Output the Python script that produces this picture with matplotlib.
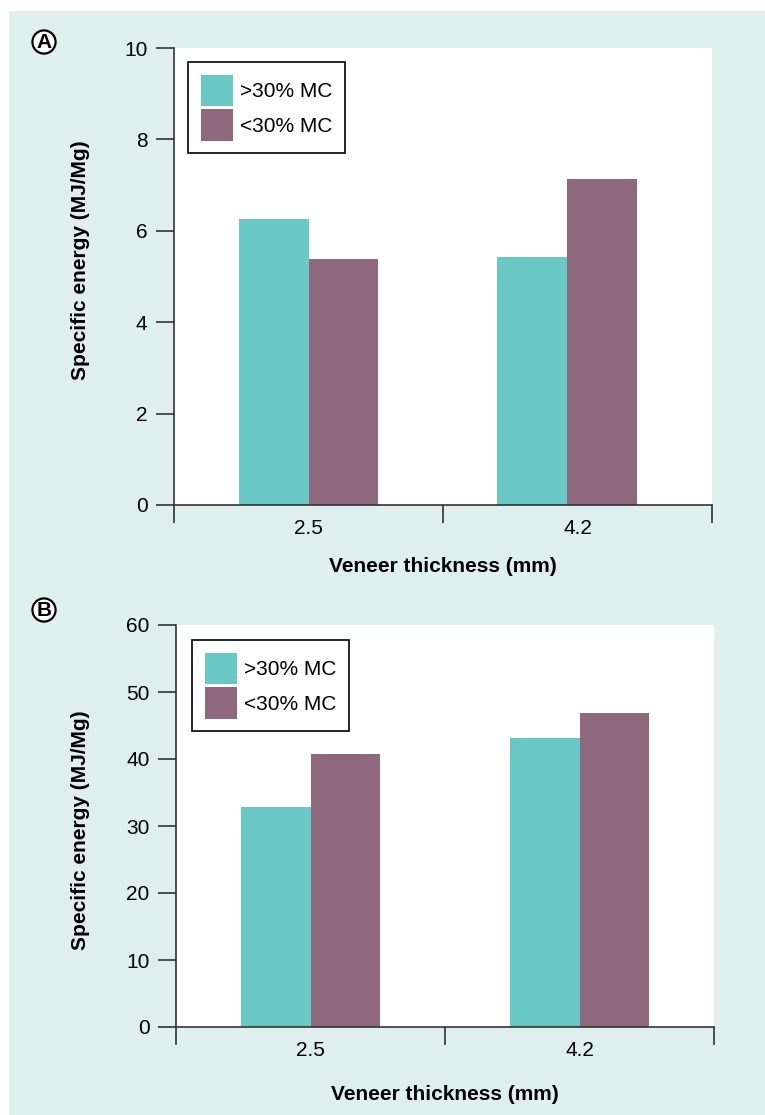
import matplotlib
matplotlib.use("Agg")
import matplotlib.pyplot as plt
from matplotlib.patches import Rectangle, Patch
import numpy as np

plt.rcParams['font.family'] = ['Liberation Sans', 'DejaVu Sans']

categories = ["2.5", "4.2"]
series_names = [">30% MC", "<30% MC"]
panel_a_high = [6.26, 5.43]
panel_a_low = [5.38, 7.13]
panel_b_high = [32.8, 43.1]
panel_b_low = [40.7, 46.9]
xlabel = "Veneer thickness (mm)"
ylabel = "Specific energy (MJ/Mg)"

TEAL = "#69c8c3"
PURPLE = "#8e687d"
BG = "#deefed"

W, H = 765, 1115
fig = plt.figure(figsize=(W / 100, H / 100), dpi=100)
fig.patches.append(Rectangle((9 / W, 0), 1, 1 - 11 / H, transform=fig.transFigure,
                             facecolor=BG, edgecolor='none', zorder=-10))


def fx(px):
    return px / W


def fy(py):
    return 1 - py / H


def panel(left, right, top, bottom, high, low, ymax, ystep, legend_box, letter, letter_y, ylab_y, xlab_y, shift):
    ax = fig.add_axes([fx(left), fy(bottom), fx(right) - fx(left), fy(top) - fy(bottom)])
    ax.set_facecolor('white')
    x = np.arange(len(categories)) + 0.5 + np.array(shift)
    w = 0.26
    ax.bar(x - w / 2, high, w, color=TEAL, label=series_names[0])
    ax.bar(x + w / 2, low, w, color=PURPLE, label=series_names[1])
    ax.set_xlim(0, len(categories))
    ax.set_ylim(0, ymax)
    ax.set_yticks(np.arange(0, ymax + 0.01, ystep))
    ax.set_xticks(np.arange(0, len(categories) + 1))
    ax.set_xticklabels([])
    ax.set_xticks(np.arange(len(categories)) + 0.5, minor=True)
    ax.set_xticklabels(categories, minor=True)
    for s in ['top', 'right']:
        ax.spines[s].set_visible(False)
    for s in ['left', 'bottom']:
        ax.spines[s].set_color('#333333')
        ax.spines[s].set_linewidth(1.2)
    ax.tick_params(axis='y', direction='out', length=13, width=1.2, color='#333333',
                   labelsize=15, pad=6)
    ax.tick_params(axis='x', which='major', direction='out', length=13, width=1.2, color='#333333')
    ax.tick_params(axis='x', which='minor', length=0, labelsize=15, pad=10)
    lx0, ly0 = legend_box
    handles = [Patch(facecolor=TEAL, edgecolor='none'), Patch(facecolor=PURPLE, edgecolor='none')]
    leg = ax.legend(handles, series_names, loc='upper left',
                    bbox_to_anchor=(fx(lx0), fy(ly0)), bbox_transform=fig.transFigure,
                    fontsize=15, frameon=True, fancybox=False, handlelength=1.55,
                    handleheight=1.95, labelspacing=0.15, handletextpad=0.35,
                    borderpad=0.6, borderaxespad=0)
    fr = leg.get_frame()
    fr.set_edgecolor('black')
    fr.set_linewidth(1.2)
    fr.set_alpha(1)
    fig.text(fx(81), fy(ylab_y), ylabel, rotation=90, ha='center', va='center',
             fontsize=15, fontweight='bold')
    fig.text(fx((left + right) / 2), fy(xlab_y), xlabel, ha='center', va='center',
             fontsize=15, fontweight='bold')
    fig.text(fx(44), fy(letter_y), letter, ha='center', va='center', fontsize=15,
             fontweight='bold',
             bbox=dict(boxstyle='circle,pad=0.1', facecolor='white', edgecolor='black', lw=1.6))
    return ax


panel(174, 712, 48, 505, panel_a_high, panel_a_low, 10, 2, (188, 62), 'A', 42, 260, 567, [0.0, -0.04])
panel(176, 714, 625, 1027, panel_b_high, panel_b_low, 60, 10, (192, 640), 'B', 610, 830, 1095, [0.0, 0.0])

fig.savefig("out.png", dpi=100)
